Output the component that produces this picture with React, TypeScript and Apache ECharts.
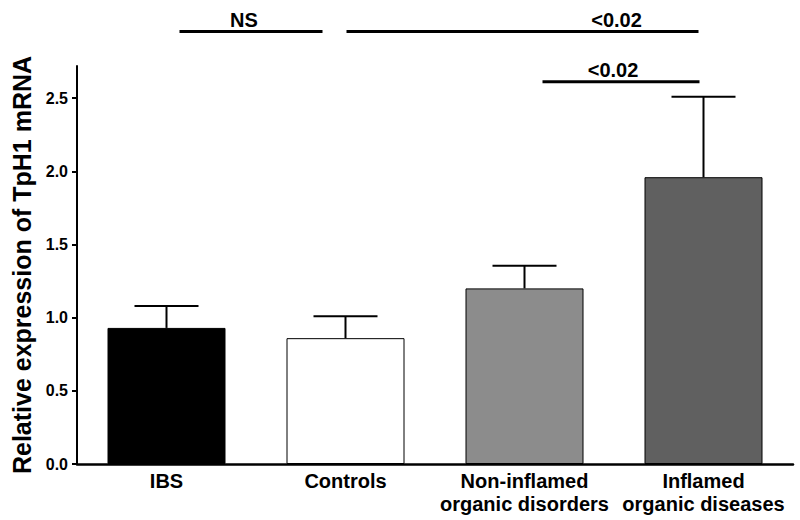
import React, { useEffect, useRef } from "react";
import * as echarts from "echarts";

const categories = ["IBS", "Controls", "Non-inflamed\norganic disorders", "Inflamed\norganic diseases"];
const means = [0.93, 0.86, 1.2, 1.96];
const sems = [0.15, 0.15, 0.155, 0.55];
const barColors = ["#000000", "#ffffff", "#8c8c8c", "#606060"];
const yTicks = [0, 0.5, 1.0, 1.5, 2.0, 2.5];
// comparisons: [groupA, groupB, label, level value]
const comparisons: [number, number, string, number][] = [
  [0, 1, "NS", 2.955],
  [1, 3, "<0.02", 2.955],
  [2, 3, "<0.02", 2.613],
];
// pixel offsets of the bracket ends relative to the group centers (layout)
const bracketOffsets: [number, number][] = [
  [13, -23],
  [1, -5],
  [18, -4],
];
const labelShift = [-7, 94, -8];

const FONT = "'Liberation Sans', Arial, Helvetica, sans-serif";

export default function App() {
  const ref = useRef<HTMLDivElement>(null);
  useEffect(() => {
    if (!ref.current) return;
    const chart = echarts.init(ref.current, null, { renderer: "svg" });
    const option: any = {
      animation: false,
      backgroundColor: "#ffffff",
      textStyle: { fontFamily: FONT },
      grid: { left: 77, right: 7, top: 66, bottom: 56, containLabel: false },
      xAxis: {
        type: "category",
        data: categories,
        axisLine: { show: true, lineStyle: { color: "#000", width: 2.5 } },
        axisTick: { show: false },
        axisLabel: {
          color: "#000",
          fontWeight: "bold",
          fontSize: 20,
          fontFamily: FONT,
          lineHeight: 23,
          margin: 5,
          interval: 0,
        },
        splitLine: { show: false },
      },
      yAxis: {
        type: "value",
        min: 0,
        max: 2.72,
        name: "Relative expression of TpH1 mRNA",
        nameLocation: "middle",
        nameGap: 41,
        nameTextStyle: { color: "#000", fontWeight: "bold", fontSize: 25, fontFamily: FONT },
        axisLine: { show: true, lineStyle: { color: "#000", width: 2 } },
        axisTick: { show: true, length: 5, lineStyle: { color: "#000", width: 2 }, customValues: yTicks },
        axisLabel: {
          color: "#000",
          fontWeight: "bold",
          fontSize: 16,
          fontFamily: FONT,
          margin: 9,
          customValues: yTicks,
          formatter: (v: number) => v.toFixed(1),
        },
        splitLine: { show: false },
      },
      series: [
        {
          type: "bar",
          barWidth: 118,
          data: means.map((v, i) => ({
            value: v,
            itemStyle: { color: barColors[i], borderColor: "#000", borderWidth: 1 },
          })),
          z: 2,
        },
        {
          type: "custom",
          z: 3,
          data: means.map((m, i) => [i, m, m + sems[i]]),
          renderItem: (params: any, api: any) => {
            const x = api.value(0);
            const lo = api.coord([x, api.value(1)]);
            const hi = api.coord([x, api.value(2)]);
            const half = 32;
            return {
              type: "group",
              children: [
                {
                  type: "line",
                  shape: { x1: lo[0], y1: lo[1], x2: hi[0], y2: hi[1] },
                  style: { stroke: "#000", lineWidth: 2 },
                },
                {
                  type: "line",
                  shape: { x1: hi[0] - half, y1: hi[1], x2: hi[0] + half, y2: hi[1] },
                  style: { stroke: "#000", lineWidth: 2 },
                },
              ],
            };
          },
        },
      ],
    };
    chart.setOption(option);

    const graphics: any[] = [];
    comparisons.forEach(([a, b, label, level], k) => {
      const pa = chart.convertToPixel({ xAxisIndex: 0, yAxisIndex: 0 }, [a, level]) as number[];
      const pb = chart.convertToPixel({ xAxisIndex: 0, yAxisIndex: 0 }, [b, level]) as number[];
      const x1 = pa[0] + bracketOffsets[k][0];
      const x2 = pb[0] + bracketOffsets[k][1];
      const y = pa[1];
      graphics.push({
        type: "line",
        shape: { x1, y1: y, x2, y2: y },
        style: { stroke: "#000", lineWidth: 3 },
      });
      graphics.push({
        type: "text",
        x: (x1 + x2) / 2 + labelShift[k],
        y: y - 12,
        style: {
          text: label,
          fill: "#000",
          font: `bold 20px ${FONT}`,
          align: "center",
          verticalAlign: "middle",
        },
      });
    });
    chart.setOption({ graphic: graphics });

    return () => chart.dispose();
  }, []);
  return (
    <div
      ref={ref}
      style={{ position: "fixed", left: 0, top: 0, width: 800, height: 520 }}
    />
  );
}
